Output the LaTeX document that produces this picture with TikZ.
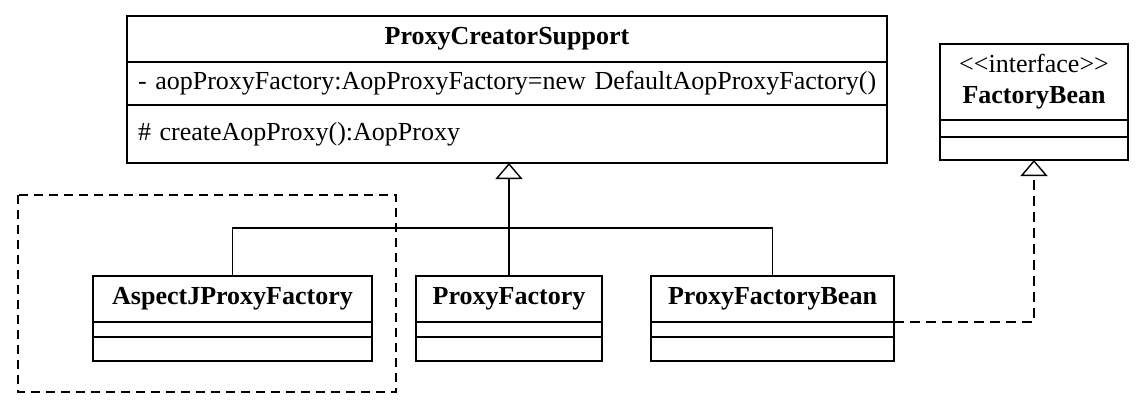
\documentclass[tikz,border=0pt]{standalone}
\usepackage{fontspec}
\setmainfont{Liberation Serif}
\usetikzlibrary{positioning,arrows.meta,calc}

\begin{document}
\begin{tikzpicture}[x=1pt,y=-1pt,font=\fontsize{26}{31}\selectfont,
  hd/.style={draw, line width=1.8pt, inner sep=0pt, outer sep=0pt, align=center, font=\fontsize{26}{31}\selectfont\bfseries},
  sec/.style={draw, line width=1.6pt, inner sep=0pt, outer sep=0pt},
  secl/.style={sec, text width=738pt, inner xsep=11pt, align=left},
  gen/.style={line width=1.4pt, -{Triangle[open, width=27pt, length=16pt, line width=1.4pt]}},
  real/.style={gen, dash pattern=on 10pt off 6pt}]
\useasboundingbox (0,0) rectangle (1140,407);
% superclass
\node[hd, minimum width=760pt, minimum height=46pt] (pcs) at (507,39) {ProxyCreatorSupport};
\node[secl, below=0pt of pcs, minimum height=43pt] (pcsa) {\mbox{- aopProxyFactory:AopProxyFactory=new DefaultAopProxyFactory()}};
\node[secl, below=0pt of pcsa, minimum height=58pt] (pcsm) {\# createAopProxy():AopProxy};
% interface
\node[hd, minimum width=188pt, minimum height=76pt] (fb) at (1034,82) {{\mdseries <\kern0pt<interface>\kern0pt>}\\FactoryBean};
\node[sec, below=0pt of fb, minimum width=188pt, minimum height=17pt] (fba) {};
\node[sec, below=0pt of fba, minimum width=188pt, minimum height=23pt] (fbm) {};
% subclasses
\node[hd, minimum width=279pt, minimum height=46pt] (aj) at (232.5,299) {AspectJProxyFactory};
\node[sec, below=0pt of aj, minimum width=279pt, minimum height=15pt] (aja) {};
\node[sec, below=0pt of aja, minimum width=279pt, minimum height=24pt] (ajm) {};
\node[hd, minimum width=186pt, minimum height=46pt] (pf) at (509,299) {ProxyFactory};
\node[sec, below=0pt of pf, minimum width=186pt, minimum height=15pt] (pfa) {};
\node[sec, below=0pt of pfa, minimum width=186pt, minimum height=24pt] (pfm) {};
\node[hd, minimum width=243pt, minimum height=46pt] (pfb) at (772.5,299) {ProxyFactoryBean};
\node[sec, below=0pt of pfb, minimum width=243pt, minimum height=15pt] (pfba) {};
\node[sec, below=0pt of pfba, minimum width=243pt, minimum height=24pt] (pfbm) {};
% group frame
\draw[line width=1.6pt, dash pattern=on 9pt off 6pt] (18,195) rectangle (396,392);
% relations
\draw[gen] (pf.north) -- (pf.north |- pcsm.south);
\draw[line width=1.4pt] (aj.north) -- ++(0,-48) -| (pfb.north);
\draw[real] (pfb.south east) -| (fbm.south);
\end{tikzpicture}
\end{document}
